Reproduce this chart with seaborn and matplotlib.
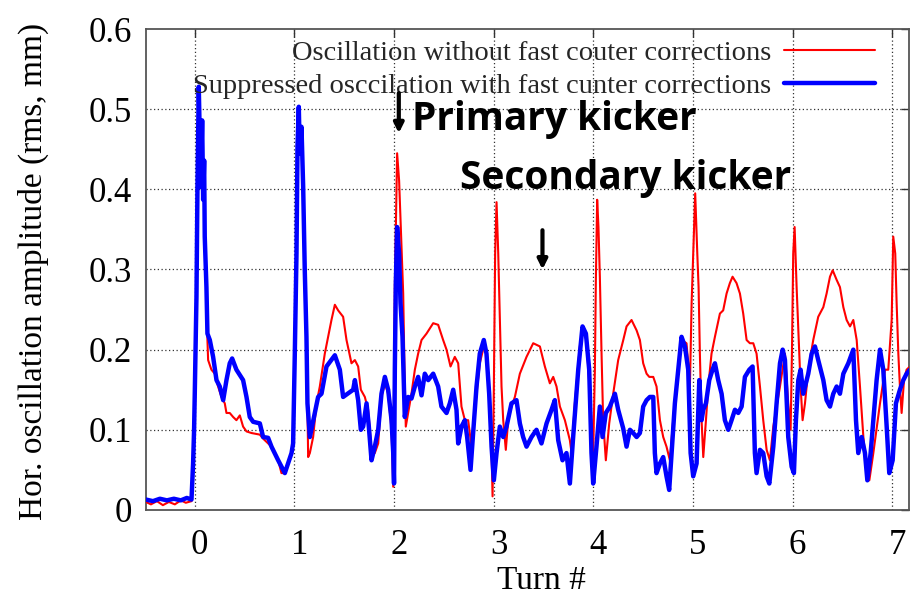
import matplotlib
matplotlib.use("Agg")
import matplotlib.pyplot as plt
from matplotlib.transforms import ScaledTranslation
import pandas as pd
import seaborn as sns

# Turn number and rms amplitude (mm) without fast counter corrections
turn_red = [
    -0.49, -0.44, -0.38, -0.32, -0.26, -0.20, -0.14, -0.09, -0.033,
    -0.017, -0.007, 0.000, 0.017, 0.027, 0.040, 0.060, 0.074, 0.084, 0.094, 0.100, 0.117, 0.127, 0.134,
    0.167, 0.201, 0.234, 0.268, 0.301, 0.318, 0.351, 0.385, 0.418, 0.452, 0.485, 0.519, 0.569, 0.653,
    0.686, 0.770, 0.837, 0.870, 0.904, 0.971, 0.987,
    1.004, 1.021, 1.031, 1.044, 1.054, 1.071, 1.088, 1.104, 1.121, 1.131, 1.138, 1.155, 1.188, 1.222,
    1.255, 1.305, 1.339, 1.372, 1.406, 1.439, 1.489, 1.523, 1.573, 1.607, 1.640, 1.667, 1.707, 1.740,
    1.774, 1.807, 1.841, 1.874, 1.908, 1.941, 1.975, 1.992,
    2.008, 2.031, 2.051, 2.065, 2.078, 2.092, 2.105, 2.118, 2.142, 2.175, 2.209, 2.242, 2.276, 2.326,
    2.393, 2.443, 2.493, 2.527, 2.567, 2.610, 2.644, 2.677, 2.711, 2.744, 2.778, 2.811, 2.861, 2.901,
    2.935, 2.972, 2.989,
    3.002, 3.015, 3.029, 3.046, 3.062, 3.079, 3.096, 3.122, 3.146, 3.179, 3.213, 3.263, 3.330, 3.397,
    3.464, 3.514, 3.564, 3.598, 3.631, 3.665, 3.715, 3.765, 3.782, 3.815, 3.865, 3.892, 3.932, 3.972,
    3.999,
    4.016, 4.026, 4.039, 4.052, 4.066, 4.083, 4.099, 4.126, 4.160, 4.200, 4.250, 4.301, 4.334, 4.384,
    4.435, 4.468, 4.501, 4.535, 4.562, 4.602, 4.635, 4.669, 4.702, 4.735, 4.769, 4.802, 4.886, 4.936,
    4.970, 4.987,
    5.003, 5.023, 5.044, 5.057, 5.070, 5.087, 5.104, 5.131, 5.154, 5.187, 5.221, 5.271, 5.304, 5.338,
    5.371, 5.398, 5.438, 5.472, 5.505, 5.539, 5.572, 5.606, 5.639, 5.673, 5.706, 5.740, 5.773, 5.807,
    5.874, 5.924, 5.957, 5.981, 5.994,
    6.007, 6.021, 6.041, 6.061, 6.081, 6.101, 6.125, 6.158, 6.208, 6.258, 6.309, 6.342, 6.376, 6.403,
    6.443, 6.476, 6.510, 6.543, 6.577, 6.610, 6.644, 6.677, 6.711, 6.744, 6.771, 6.811, 6.878, 6.928,
    6.961, 6.995,
    7.011, 7.031, 7.045, 7.062, 7.078, 7.095, 7.119, 7.145, 7.179,
]
amp_red = [
    0.010, 0.007, 0.011, 0.006, 0.010, 0.007, 0.012, 0.009, 0.011,
    0.058, 0.100, 0.146, 0.266, 0.403, 0.528, 0.403, 0.486, 0.387, 0.436, 0.341, 0.278, 0.212, 0.187,
    0.175, 0.170, 0.154, 0.141, 0.133, 0.121, 0.121, 0.116, 0.112, 0.118, 0.104, 0.098, 0.096, 0.094,
    0.089, 0.079, 0.062, 0.046, 0.046, 0.071, 0.083,
    0.195, 0.320, 0.453, 0.503, 0.445, 0.478, 0.403, 0.299, 0.216, 0.133, 0.066, 0.071, 0.091, 0.133,
    0.154, 0.195, 0.216, 0.237, 0.256, 0.249, 0.241, 0.212, 0.183, 0.187, 0.179, 0.150, 0.141, 0.125,
    0.075, 0.071, 0.083, 0.141, 0.158, 0.145, 0.100, 0.029,
    0.278, 0.445, 0.411, 0.362, 0.320, 0.270, 0.175, 0.104, 0.121, 0.145, 0.175, 0.195, 0.212, 0.220,
    0.233, 0.231, 0.212, 0.200, 0.179, 0.191, 0.183, 0.129, 0.112, 0.112, 0.079, 0.125, 0.183, 0.204,
    0.191, 0.112, 0.017,
    0.154, 0.320, 0.384, 0.320, 0.237, 0.154, 0.112, 0.075, 0.112, 0.129, 0.141, 0.170, 0.191, 0.208,
    0.204, 0.179, 0.158, 0.166, 0.154, 0.129, 0.112, 0.087, 0.071, 0.133, 0.204, 0.224, 0.212, 0.133,
    0.071,
    0.175, 0.287, 0.387, 0.353, 0.291, 0.195, 0.112, 0.062, 0.108, 0.145, 0.187, 0.212, 0.229, 0.237,
    0.224, 0.212, 0.183, 0.170, 0.166, 0.166, 0.154, 0.112, 0.091, 0.079, 0.062, 0.112, 0.212, 0.208,
    0.154, 0.258,
    0.320, 0.395, 0.320, 0.278, 0.195, 0.112, 0.066, 0.112, 0.154, 0.195, 0.216, 0.245, 0.249, 0.270,
    0.283, 0.291, 0.283, 0.270, 0.245, 0.212, 0.208, 0.208, 0.195, 0.154, 0.112, 0.075, 0.062, 0.104,
    0.154, 0.195, 0.133, 0.100, 0.195,
    0.320, 0.353, 0.278, 0.216, 0.154, 0.112, 0.133, 0.175, 0.212, 0.241, 0.253, 0.270, 0.291, 0.299,
    0.287, 0.278, 0.253, 0.237, 0.229, 0.237, 0.212, 0.154, 0.091, 0.046, 0.037, 0.071, 0.133, 0.175,
    0.175, 0.237,
    0.341, 0.320, 0.258, 0.195, 0.154, 0.121, 0.162, 0.175, 0.179,
]

# Turn number and rms amplitude (mm) with fast counter corrections
turn_blue = [
    -0.49, -0.42, -0.35, -0.28, -0.21, -0.14, -0.08, -0.033,
    -0.017, -0.007, 0.000, 0.017, 0.027, 0.040, 0.060, 0.074, 0.084, 0.094, 0.100, 0.117, 0.127, 0.151,
    0.184, 0.218, 0.251, 0.285, 0.318, 0.351, 0.375, 0.418, 0.485, 0.519, 0.552, 0.586, 0.653, 0.686,
    0.736, 0.770, 0.837, 0.904, 0.971, 0.987,
    1.004, 1.021, 1.031, 1.044, 1.054, 1.071, 1.088, 1.104, 1.121, 1.131, 1.155, 1.205, 1.238, 1.272,
    1.322, 1.406, 1.456, 1.489, 1.590, 1.607, 1.640, 1.667, 1.690, 1.724, 1.747, 1.774, 1.807, 1.841,
    1.874, 1.908, 1.941, 1.975, 1.992, 2.000,
    2.008, 2.018, 2.031, 2.051, 2.065, 2.085, 2.108, 2.142, 2.175, 2.209, 2.242, 2.276, 2.309, 2.343,
    2.393, 2.443, 2.476, 2.527, 2.560, 2.594, 2.627, 2.644, 2.677, 2.711, 2.734, 2.768, 2.794, 2.828,
    2.861, 2.901, 2.928, 2.955, 2.979,
    3.002, 3.029, 3.062, 3.096, 3.129, 3.179, 3.229, 3.263, 3.296, 3.330, 3.380, 3.430, 3.480, 3.531,
    3.581, 3.614, 3.648, 3.691, 3.731, 3.765, 3.798, 3.849, 3.892, 3.926, 3.959, 3.982, 3.999,
    4.032, 4.066, 4.093, 4.126, 4.167, 4.217, 4.250, 4.300, 4.334, 4.368, 4.401, 4.435, 4.468, 4.501,
    4.535, 4.568, 4.602, 4.618, 4.635, 4.669, 4.702, 4.735, 4.762, 4.786, 4.819, 4.853, 4.886, 4.920,
    4.953, 4.977,
    5.003, 5.037, 5.064, 5.087, 5.104, 5.131, 5.164, 5.197, 5.221, 5.254, 5.288, 5.321, 5.355, 5.388,
    5.422, 5.455, 5.489, 5.522, 5.566, 5.599, 5.622, 5.639, 5.673, 5.706, 5.740, 5.767, 5.807, 5.840,
    5.874, 5.901, 5.924, 5.957, 5.991,
    6.014, 6.034, 6.058, 6.081, 6.108, 6.158, 6.192, 6.225, 6.258, 6.309, 6.342, 6.376, 6.409, 6.443,
    6.476, 6.510, 6.560, 6.610, 6.637, 6.660, 6.694, 6.727, 6.751, 6.784, 6.811, 6.844, 6.878, 6.911,
    6.945, 6.971,
    7.005, 7.038, 7.078, 7.112, 7.145, 7.179,
]
amp_blue = [
    0.013, 0.011, 0.014, 0.012, 0.014, 0.012, 0.015, 0.013,
    0.058, 0.100, 0.146, 0.266, 0.403, 0.528, 0.403, 0.486, 0.387, 0.436, 0.341, 0.278, 0.220, 0.212,
    0.191, 0.162, 0.154, 0.137, 0.162, 0.183, 0.189, 0.175, 0.162, 0.141, 0.116, 0.110, 0.108, 0.091,
    0.090, 0.079, 0.062, 0.046, 0.071, 0.083,
    0.195, 0.320, 0.453, 0.503, 0.445, 0.478, 0.403, 0.299, 0.216, 0.133, 0.091, 0.121, 0.141, 0.145,
    0.179, 0.193, 0.175, 0.141, 0.150, 0.162, 0.137, 0.100, 0.104, 0.133, 0.104, 0.062, 0.079, 0.100,
    0.145, 0.166, 0.150, 0.112, 0.071, 0.033,
    0.175, 0.283, 0.353, 0.320, 0.258, 0.216, 0.116, 0.141, 0.139, 0.154, 0.166, 0.143, 0.170, 0.162,
    0.170, 0.154, 0.129, 0.121, 0.133, 0.150, 0.125, 0.083, 0.104, 0.112, 0.091, 0.050, 0.096, 0.154,
    0.195, 0.212, 0.195, 0.145, 0.079,
    0.037, 0.071, 0.104, 0.091, 0.104, 0.133, 0.137, 0.108, 0.091, 0.079, 0.091, 0.100, 0.083, 0.108,
    0.125, 0.137, 0.087, 0.062, 0.071, 0.033, 0.091, 0.175, 0.229, 0.220, 0.175, 0.071, 0.033,
    0.079, 0.129, 0.091, 0.121, 0.129, 0.145, 0.125, 0.102, 0.079, 0.100, 0.096, 0.091, 0.096, 0.129,
    0.137, 0.141, 0.141, 0.071, 0.046, 0.058, 0.066, 0.042, 0.025, 0.071, 0.133, 0.175, 0.216, 0.204,
    0.175, 0.071,
    0.042, 0.058, 0.162, 0.112, 0.125, 0.133, 0.162, 0.175, 0.183, 0.162, 0.145, 0.112, 0.100, 0.112,
    0.125, 0.121, 0.129, 0.166, 0.175, 0.179, 0.071, 0.046, 0.075, 0.071, 0.042, 0.033, 0.079, 0.133,
    0.183, 0.200, 0.187, 0.091, 0.054,
    0.046, 0.112, 0.162, 0.175, 0.145, 0.170, 0.195, 0.204, 0.187, 0.162, 0.137, 0.129, 0.145, 0.154,
    0.145, 0.170, 0.183, 0.200, 0.112, 0.071, 0.091, 0.071, 0.037, 0.071, 0.112, 0.162, 0.200, 0.175,
    0.104, 0.046,
    0.062, 0.133, 0.150, 0.162, 0.170, 0.175,
]

label_red = "Oscillation without fast couter corrections"
label_blue = "Suppressed osccilation with fast cunter corrections"

x_ticks = [0, 1, 2, 3, 4, 5, 6, 7]
y_ticks = [0.0, 0.1, 0.2, 0.3, 0.4, 0.5, 0.6]
y_tick_labels = ["0", "0.1", "0.2", "0.3", "0.4", "0.5", "0.6"]

# Kicker markers: (turn, arrow tail amplitude, arrow head amplitude)
primary_kick = (2.048, 0.520, 0.470)
secondary_kick = (3.49, 0.349, 0.300)

sns.set_theme(style="white")
plt.rcParams["font.family"] = ["Liberation Serif", "DejaVu Serif"]
plt.rcParams["axes.unicode_minus"] = False

red_df = pd.DataFrame({"turn": turn_red, "amp": amp_red})
blue_df = pd.DataFrame({"turn": turn_blue, "amp": amp_blue})

fig = plt.figure(figsize=(9.10, 5.98), dpi=100)
ax = fig.add_axes([0.1604, 0.1472, 0.999 - 0.1604, 0.9515 - 0.1472])

sns.lineplot(data=red_df, x="turn", y="amp", sort=False, estimator=None,
             color="#ff0000", linewidth=1.5, label=label_red, ax=ax, zorder=3)
sns.lineplot(data=blue_df, x="turn", y="amp", sort=False, estimator=None,
             color="#0000ff", linewidth=3.2, label=label_blue, ax=ax, zorder=4)

ax.set_xlim(-0.49, 7.17)
ax.set_ylim(0, 0.6)
ax.set_xticks(x_ticks)
ax.set_xticklabels([str(t) for t in x_ticks])
ax.set_yticks(y_ticks)
ax.set_yticklabels(y_tick_labels)

# dotted grid lines in the interior only
for t in x_ticks:
    ax.axvline(t, color="#333333", lw=0.9, ls=(0, (1, 2)), zorder=1)
for v in y_ticks[1:-1]:
    ax.axhline(v, color="#333333", lw=0.9, ls=(0, (1, 2)), zorder=1)

for side in ax.spines.values():
    side.set_color("#555555")
    side.set_linewidth(1.3)

ax.tick_params(axis="both", which="major", direction="in", length=6, width=1,
               color="#333333", top=True, right=True, labelsize=25,
               labelcolor="black")
ax.tick_params(axis="x", pad=14)
ax.tick_params(axis="y", pad=10)

# x tick labels sit slightly right of their ticks
shift = ScaledTranslation(5 / 100, 0, fig.dpi_scale_trans)
for lab in ax.get_xticklabels():
    lab.set_transform(lab.get_transform() + shift)

ax.set_xlabel("Turn #", fontsize=24, color="black")
ax.set_ylabel("Hor. oscillation amplitude (rms, mm)", fontsize=24, color="black")
ax.xaxis.set_label_coords(0.518, -0.148)
ax.xaxis.label.set_va("center")
ax.yaxis.set_label_coords(-0.147, 0.495)
ax.yaxis.label.set_va("center")

leg = ax.legend(loc="upper right", bbox_to_anchor=(0.955, 0.978), frameon=False,
                markerfirst=False, fontsize=20.5, handlelength=3.2,
                handletextpad=0.45, labelspacing=0.26, borderpad=0,
                borderaxespad=0)

arrow_style = dict(arrowstyle="-|>", color="black", lw=3, mutation_scale=14,
                   shrinkA=0, shrinkB=0)
for turn, tail, head in (primary_kick, secondary_kick):
    ax.annotate("", xy=(turn, head), xytext=(turn, tail),
                arrowprops=arrow_style, zorder=6)

kick_font = dict(family=["Open Sans", "DejaVu Sans"], fontweight="bold",
                 fontsize=28, color="black", va="baseline", ha="left", zorder=6)
ax.text(2.18, 0.474, "Primary kicker", **kick_font)
ax.text(2.66, 0.401, "Secondary kicker", **kick_font)

fig.savefig("out.png", dpi=100)
